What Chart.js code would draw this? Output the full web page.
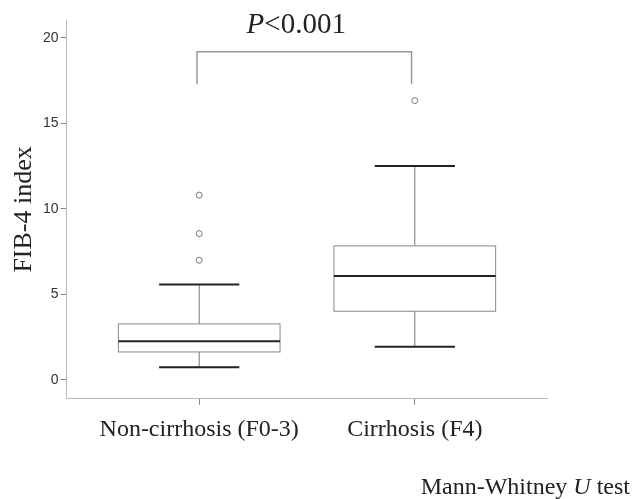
<!DOCTYPE html>
<html>
<head>
<meta charset="utf-8">
<script src="https://cdn.jsdelivr.net/npm/chart.js@4/dist/chart.umd.min.js"></script>
<style>
  html, body { margin: 0; padding: 0; background: #fff; }
  #wrap { width: 640px; height: 499px; }
</style>
</head>
<body>
<div id="wrap"><canvas id="fib4Chart"></canvas></div>
<script>
// groups on the x axis
const groups = ['Non-cirrhosis (F0-3)', 'Cirrhosis (F4)'];
const groupPos = [1, 2];

// box plot summary
const whiskerLow = [0.74, 1.95];
const q1 = [1.64, 4.02];
const median = [2.26, 6.08];
const q3 = [3.28, 7.84];
const whiskerHigh = [5.59, 12.51];

// outliers
const outlierGroup = [1, 1, 1, 2];
const outlierValue = [7.0, 8.56, 10.81, 16.34];

// significance bracket
const bracketX = [0.99, 0.99, 1.985, 1.985];
const bracketY = [17.3, 19.2, 19.2, 17.3];

const yTicks = [0, 5, 10, 15, 20];

const SERIF = '"Liberation Serif", "DejaVu Serif", serif';
const SANS = '"Liberation Sans", Arial, sans-serif';

// draws boxes, medians, whiskers and caps from the arrays above
const boxPlotPlugin = {
    id: 'boxPlot',
    afterDatasetsDraw(chart) {
        const ctx = chart.ctx;
        const xs = chart.scales.x;
        const ys = chart.scales.y;
        const boxHalf = 0.375;
        const capHalf = 0.186;

        ctx.save();
        groupPos.forEach((pos, i) => {
            const xl = xs.getPixelForValue(pos - boxHalf);
            const xr = xs.getPixelForValue(pos + boxHalf);
            const xc = xs.getPixelForValue(pos);
            const cl = xs.getPixelForValue(pos - capHalf);
            const cr = xs.getPixelForValue(pos + capHalf);
            const yQ1 = ys.getPixelForValue(q1[i]);
            const yQ3 = ys.getPixelForValue(q3[i]);
            const yMed = ys.getPixelForValue(median[i]);
            const yLo = ys.getPixelForValue(whiskerLow[i]);
            const yHi = ys.getPixelForValue(whiskerHigh[i]);

            // whiskers
            ctx.strokeStyle = '#777';
            ctx.lineWidth = 1;
            ctx.beginPath();
            ctx.moveTo(xc, yQ3); ctx.lineTo(xc, yHi);
            ctx.moveTo(xc, yQ1); ctx.lineTo(xc, yLo);
            ctx.stroke();

            // box
            ctx.strokeStyle = '#888';
            ctx.strokeRect(xl, yQ3, xr - xl, yQ1 - yQ3);

            // caps + median
            ctx.strokeStyle = '#222';
            ctx.lineWidth = 2;
            ctx.beginPath();
            ctx.moveTo(cl, yHi); ctx.lineTo(cr, yHi);
            ctx.moveTo(cl, yLo); ctx.lineTo(cr, yLo);
            ctx.moveTo(xl, yMed); ctx.lineTo(xr, yMed);
            ctx.stroke();
        });
        ctx.restore();
    }
};

// P value above the bracket and the test name in the corner
const annotationPlugin = {
    id: 'annotations',
    afterDraw(chart) {
        const ctx = chart.ctx;
        const xs = chart.scales.x;
        const ys = chart.scales.y;
        ctx.save();
        ctx.fillStyle = '#222';
        ctx.textBaseline = 'alphabetic';

        // P<0.001
        const pItalic = 'italic 29px ' + SERIF;
        const pRegular = '29px ' + SERIF;
        ctx.font = pItalic;
        const wP = ctx.measureText('P').width;
        ctx.font = pRegular;
        const wRest = ctx.measureText('<0.001').width;
        let px = xs.getPixelForValue(1.45) - (wP + wRest) / 2;
        const py = ys.getPixelForValue(20.9) + 10;
        ctx.font = pItalic;
        ctx.fillText('P', px, py);
        ctx.font = pRegular;
        ctx.fillText('<0.001', px + wP, py);

        // Mann-Whitney U test, right aligned
        const parts = [['Mann-Whitney ', false], ['U', true], [' test', false]];
        let total = 0;
        parts.forEach(p => {
            ctx.font = (p[1] ? 'italic ' : '') + '24px ' + SERIF;
            total += ctx.measureText(p[0]).width;
        });
        let tx = chart.width - 10 - total;
        const ty = chart.height - 5;
        parts.forEach(p => {
            ctx.font = (p[1] ? 'italic ' : '') + '24px ' + SERIF;
            ctx.fillText(p[0], tx, ty);
            tx += ctx.measureText(p[0]).width;
        });
        ctx.restore();
    }
};

const ctx = document.getElementById('fib4Chart');

new Chart(ctx, {
    type: 'scatter',
    data: {
        datasets: [
            {
                label: 'Outliers',
                data: outlierGroup.map((g, i) => ({ x: g, y: outlierValue[i] })),
                pointStyle: 'circle',
                pointRadius: 3,
                pointBorderWidth: 1,
                pointBorderColor: '#777',
                pointBackgroundColor: '#fff'
            },
            {
                label: 'Bracket',
                type: 'line',
                data: bracketX.map((x, i) => ({ x: x, y: bracketY[i] })),
                borderColor: '#999',
                borderWidth: 1.5,
                pointRadius: 0,
                fill: false,
                tension: 0
            }
        ]
    },
    options: {
        responsive: true,
        maintainAspectRatio: false,
        animation: false,
        layout: { padding: { left: 0, right: 92.6, top: 20, bottom: 0 } },
        plugins: {
            legend: { display: false },
            tooltip: { enabled: false }
        },
        scales: {
            x: {
                type: 'linear',
                min: 0.385,
                max: 2.615,
                afterFit: (scale) => { scale.height = 100.2; },
                afterBuildTicks: (scale) => {
                    scale.ticks = groupPos.map(v => ({ value: v }));
                },
                grid: {
                    drawOnChartArea: false,
                    drawTicks: true,
                    tickLength: 6,
                    color: '#888'
                },
                border: { color: '#bbb', dash: [1, 2], width: 1 },
                ticks: {
                    padding: 11,
                    color: '#222',
                    font: { family: SERIF, size: 24 },
                    maxRotation: 0,
                    callback: (v) => groups[groupPos.indexOf(v)] || ''
                }
            },
            y: {
                min: -1.1,
                max: 21.05,
                afterFit: (scale) => { scale.width = 66.6; },
                afterBuildTicks: (scale) => {
                    scale.ticks = yTicks.map(v => ({ value: v }));
                },
                grid: {
                    drawOnChartArea: false,
                    drawTicks: true,
                    tickLength: 6,
                    color: '#888'
                },
                border: { color: '#bbb', dash: [1, 2], width: 1 },
                ticks: {
                    padding: 2,
                    color: '#333',
                    font: { family: SANS, size: 14 }
                },
                title: {
                    display: true,
                    text: 'FIB-4 index',
                    color: '#222',
                    font: { family: SERIF, size: 26 },
                    padding: { top: 9, bottom: 0 }
                }
            }
        }
    },
    plugins: [boxPlotPlugin, annotationPlugin]
});
</script>
</body>
</html>
